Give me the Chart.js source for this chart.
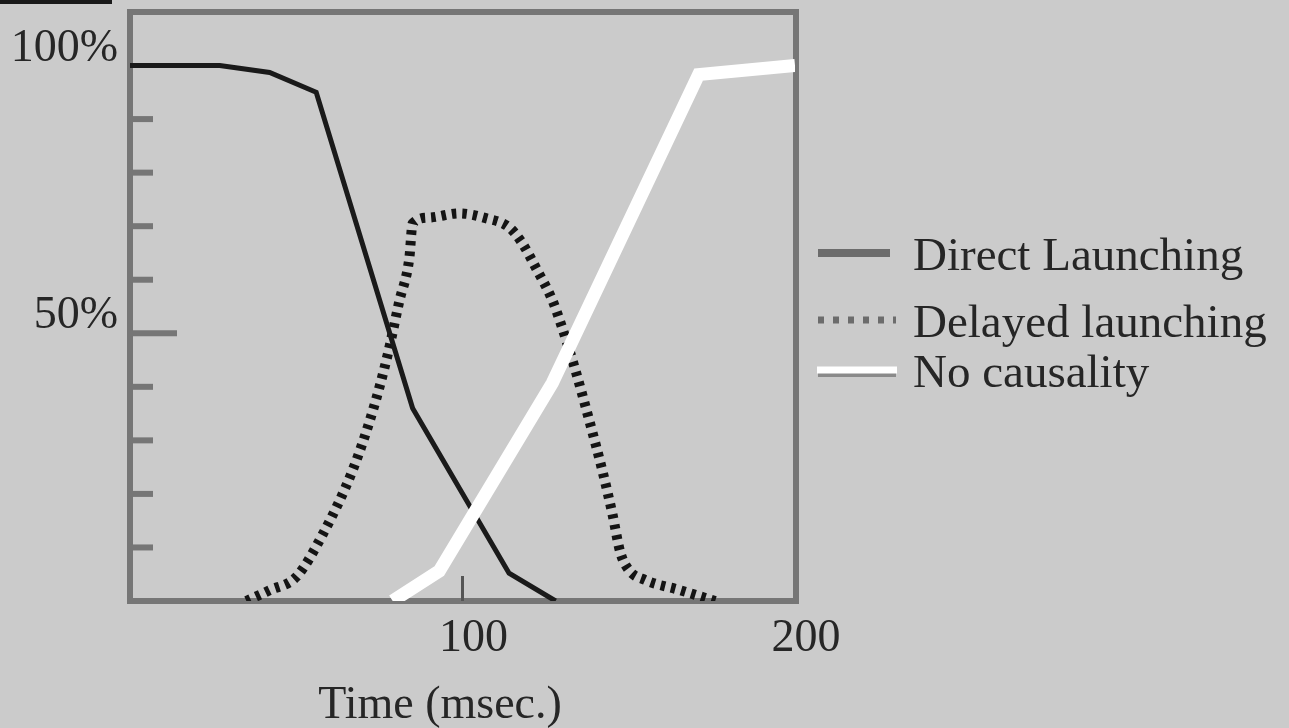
<!DOCTYPE html>
<html>
<head>
<meta charset="utf-8">
<script src="https://cdn.jsdelivr.net/npm/chart.js@4.4.1/dist/chart.umd.min.js"></script>
<style>
  html, body { margin: 0; padding: 0; background: #cbcbcb; }
  #wrap { width: 1289px; height: 728px; }
</style>
</head>
<body>
<div id="wrap"><canvas id="chart" width="1289" height="728"></canvas></div>
<script>
// values (x in msec, y in percent)
const directX  = [0, 27, 42, 56, 85, 114, 128];
const directY  = [100, 100, 98.7, 95, 36, 5.2, 0];

const delayedX = [35, 42, 50, 58, 67, 73, 77.5, 81, 84, 85, 90, 99, 107, 114, 118, 122, 127, 130, 134, 138, 142, 145, 147.5, 150, 155, 165, 176];
const delayedY = [0, 2, 4.5, 12.5, 24.5, 35.5, 46, 56, 64, 70.5, 71.6, 72.4, 71.5, 69.8, 66.8, 62.3, 56.2, 51, 43, 34, 24.5, 16.5, 9, 5.8, 3.9, 2.1, 0];

const noneX    = [79, 93, 127, 171, 200];
const noneY    = [0, 5.6, 40.7, 98.3, 100];

const seriesLabels = ['Direct Launching', 'Delayed launching', 'No causality'];
const xTickLabels = { 100: '100', 200: '200' };
const yTickLabels = { 100: '100%', 50: '50%' };
const xTitle = 'Time (msec.)';

const toPoints = (xs, ys) => xs.map((x, i) => ({ x: x, y: ys[i] }));

const serif = '"Liberation Serif", "Times New Roman", serif';
const textColor = '#262626';
const frameColor = '#767676';

const framePlugin = {
  id: 'frame',
  beforeDatasetsDraw(chart) {
    const { ctx, chartArea: a, scales } = chart;
    ctx.save();
    // small black bar in the top-left corner
    ctx.fillStyle = '#1a1a1a';
    ctx.fillRect(0, 0, 112, 4);

    ctx.strokeStyle = frameColor;
    ctx.lineWidth = 6;
    ctx.strokeRect(a.left, a.top, a.right - a.left + 1, a.bottom - a.top);

    // inward tick marks on the y axis
    scales.y.ticks.forEach(t => {
      if (t.value <= 0 || t.value >= 100) return;
      const py = scales.y.getPixelForValue(t.value);
      const len = t.value === 50 ? 47 : 23;
      ctx.beginPath();
      ctx.moveTo(a.left, py);
      ctx.lineTo(a.left + len, py);
      ctx.stroke();
    });

    // single inward tick on the x axis
    const px = scales.x.getPixelForValue(100);
    ctx.strokeStyle = '#555';
    ctx.lineWidth = 3;
    ctx.beginPath();
    ctx.moveTo(px, a.bottom);
    ctx.lineTo(px, a.bottom - 25);
    ctx.stroke();
    ctx.restore();
  },
  afterDraw(chart) {
    const { ctx } = chart;
    const ds = chart.data.datasets;
    ctx.save();
    ctx.font = '46px ' + serif;
    ctx.fillStyle = textColor;
    ctx.textAlign = 'center';
    ctx.textBaseline = 'alphabetic';
    ctx.fillText(xTitle, 440, 718);

    // legend
    ctx.font = '47px ' + serif;
    ctx.textAlign = 'left';
    const lx = 818, lw = 72, tx = 913;

    ctx.strokeStyle = '#6c6c6c';
    ctx.lineWidth = 8;
    ctx.beginPath(); ctx.moveTo(lx, 253); ctx.lineTo(lx + lw, 253); ctx.stroke();
    ctx.fillText(ds[0].label, tx, 270);

    ctx.lineWidth = 7;
    ctx.setLineDash([6, 9]);
    ctx.beginPath(); ctx.moveTo(lx, 320); ctx.lineTo(lx + lw + 6, 320); ctx.stroke();
    ctx.setLineDash([]);
    ctx.fillText(ds[1].label, tx, 337);

    ctx.strokeStyle = '#8a8a8a';
    ctx.lineWidth = 6;
    ctx.beginPath(); ctx.moveTo(lx, 374); ctx.lineTo(lx + 78, 374); ctx.stroke();
    ctx.strokeStyle = '#ffffff';
    ctx.lineWidth = 7;
    ctx.beginPath(); ctx.moveTo(lx - 1, 370); ctx.lineTo(lx + 79, 370); ctx.stroke();
    ctx.fillText(ds[2].label, tx, 387);
    ctx.restore();
  }
};

new Chart(document.getElementById('chart'), {
  type: 'line',
  data: {
    datasets: [
      {
        label: seriesLabels[0],
        data: toPoints(directX, directY),
        borderColor: '#1a1a1a',
        borderWidth: 5,
        order: 2
      },
      {
        label: seriesLabels[1],
        data: toPoints(delayedX, delayedY),
        borderColor: '#141414',
        borderWidth: 10,
        borderDash: [4.5, 6],
        cubicInterpolationMode: 'monotone',
        order: 3
      },
      {
        label: seriesLabels[2],
        data: toPoints(noneX, noneY),
        borderColor: '#ffffff',
        borderWidth: 13,
        order: 1
      }
    ]
  },
  options: {
    responsive: false,
    animation: false,
    events: [],
    elements: {
      point: { radius: 0 },
      line: { tension: 0, fill: false, borderCapStyle: 'butt', borderJoinStyle: 'miter' }
    },
    layout: { padding: { left: 0, top: 12, right: 494, bottom: 0 } },
    plugins: {
      legend: { display: false },
      tooltip: { enabled: false }
    },
    scales: {
      x: {
        type: 'linear',
        min: 0,
        max: 200,
        border: { display: false },
        grid: { display: false, drawTicks: false },
        afterFit(scale) {
          scale.height = 127;
          scale.paddingLeft = 0;
          scale.paddingRight = 0;
        },
        ticks: {
          stepSize: 100,
          padding: 10,
          labelOffset: 11,
          maxRotation: 0,
          autoSkip: false,
          color: textColor,
          font: { family: serif, size: 46 },
          callback: v => xTickLabels[v] || ''
        }
      },
      y: {
        min: 0,
        max: 110,
        border: { display: false },
        grid: { display: false, drawTicks: false },
        afterFit(scale) {
          scale.width = 130;
          scale.paddingTop = 0;
          scale.paddingBottom = 0;
        },
        ticks: {
          stepSize: 10,
          padding: 12,
          labelOffset: -17,
          autoSkip: false,
          color: textColor,
          font: { family: serif, size: 46 },
          callback: v => yTickLabels[v] || ''
        }
      }
    }
  },
  plugins: [framePlugin]
});
</script>
</body>
</html>
